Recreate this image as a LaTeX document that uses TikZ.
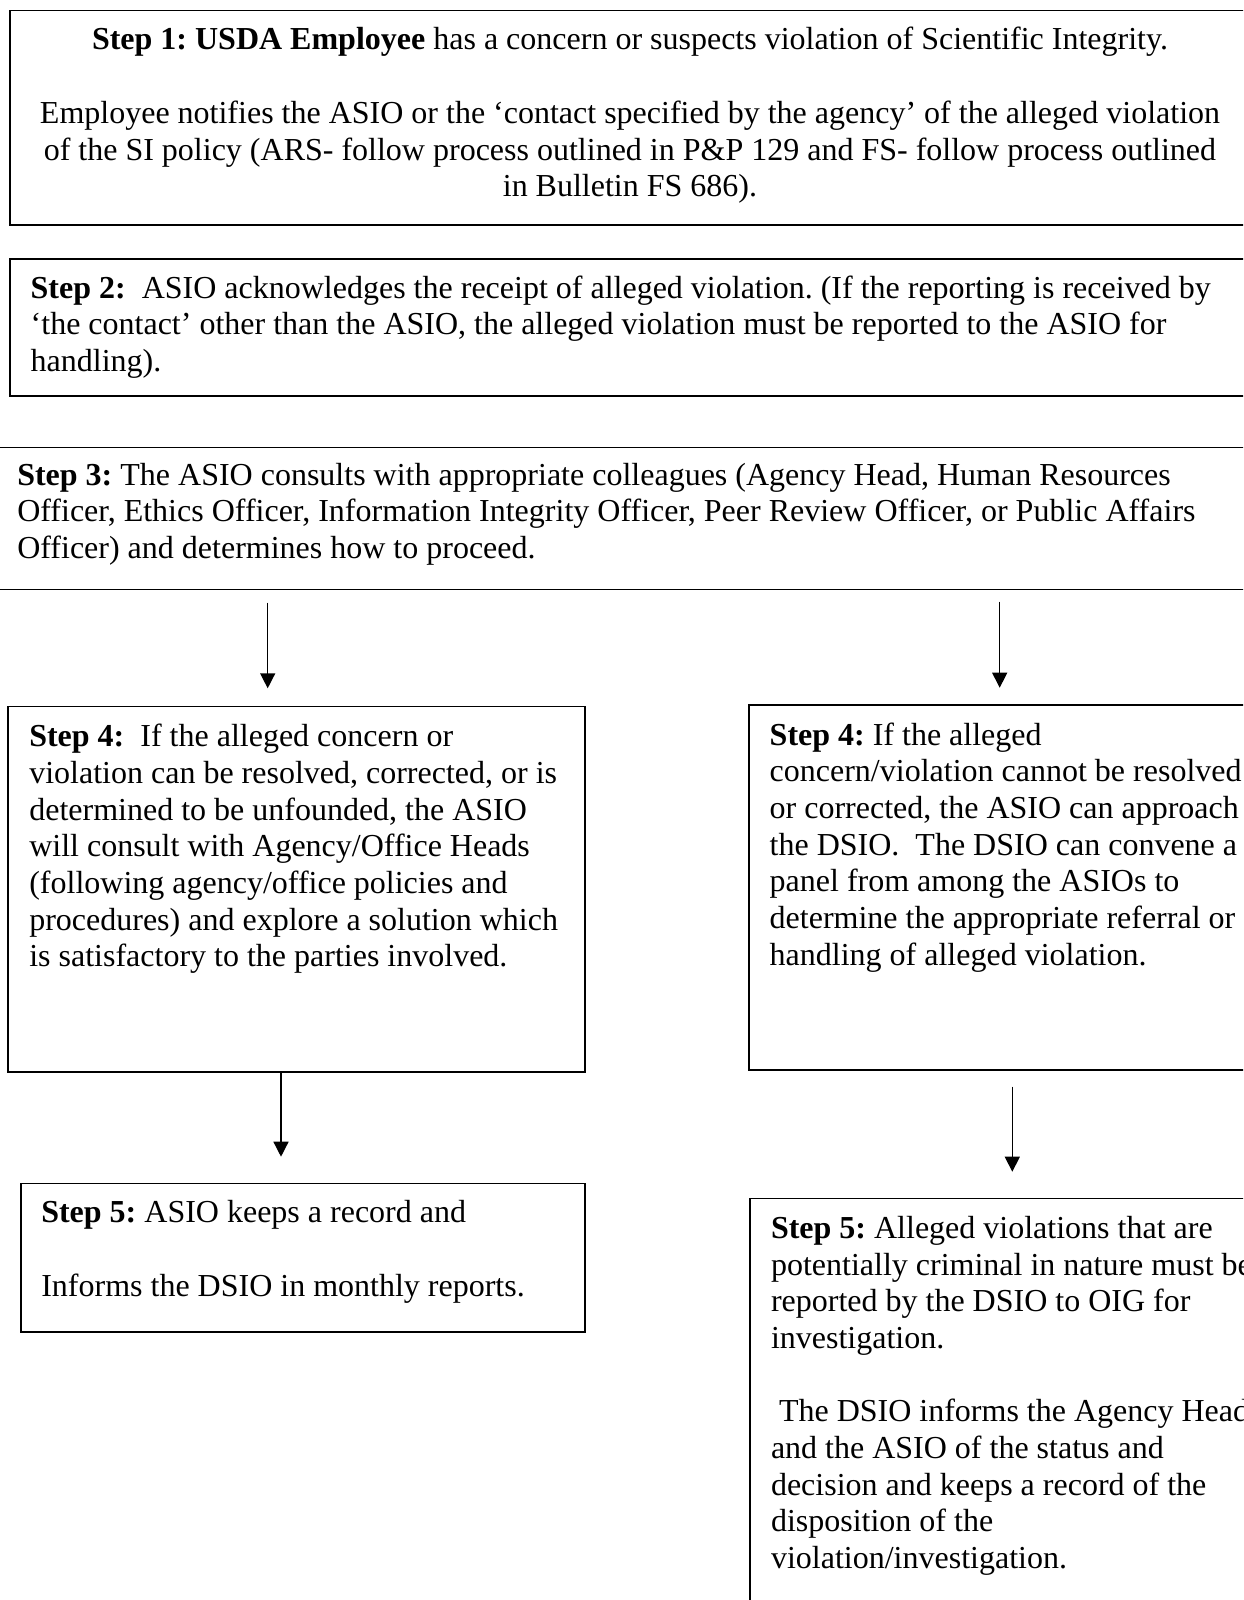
\documentclass[tikz,border=0pt]{standalone}
\usepackage{fontspec}
\setmainfont{Liberation Serif}
\usetikzlibrary{arrows.meta}
\frenchspacing
\begin{document}
\begin{tikzpicture}[x=1pt,y=-1pt,
  box/.style={draw, line width=1.6pt, inner sep=0pt, outer sep=0pt, anchor=north west, rectangle},
  txt/.style={anchor=base west, inner sep=0pt, outer sep=0pt, text width=1400pt, align=flush left,
              font=\fontsize{32}{36.7}\selectfont\frenchspacing},
  txtc/.style={anchor=base, inner sep=0pt, outer sep=0pt, text width=1240pt, align=flush center,
              font=\fontsize{32}{36.7}\selectfont\frenchspacing},
  arr/.style={line width=1.4pt, -{Triangle[length=15pt,width=15pt]}}]
\useasboundingbox (0,0) rectangle (1243,1600);
\clip (0,0) rectangle (1243,1600);
\fill[white] (0,0) rectangle (1243,1600);

% boxes
\node[box, minimum width=1260pt, minimum height=214.3pt] (b1) at (10,10.7) {};
\node[box, minimum width=1260pt, minimum height=137pt] (b2) at (9.7,259) {};
\node[box, minimum width=1280pt, minimum height=142pt] (b3) at (-10,447.5) {};
\node[box, minimum width=577.3pt, minimum height=365.2pt] (b4l) at (7.7,706.5) {};
\node[box, minimum width=600pt, minimum height=365pt] (b4r) at (748.7,705) {};
\node[box, minimum width=564.3pt, minimum height=148.4pt] (b5l) at (20.7,1183.3) {};
\node[box, minimum width=600pt, minimum height=450pt] (b5r) at (749.7,1198.3) {};

% texts
\node[txtc] (t1) at (630,50) {\textbf{Step 1: USDA Employee} has a concern or suspects violation of Scientific Integrity.\\[36.7pt]
Employee notifies the ASIO or the ‘contact specified by the agency’ of the alleged violation\\
of the SI policy (ARS- follow process outlined in P\&P 129 and FS- follow process outlined\\
in Bulletin FS 686).};

\node[txt] (t2) at (30.7,298) {\textbf{Step 2:}\ \ ASIO acknowledges the receipt of alleged violation. (If the reporting is received by\\
‘the contact’ other than the ASIO, the alleged violation must be reported to the ASIO for\\
handling).};

\node[txt] (t3) at (17.3,485) {\textbf{Step 3:} The ASIO consults with appropriate colleagues (Agency Head, Human Resources\\
Officer, Ethics Officer, Information Integrity Officer, Peer Review Officer, or Public Affairs\\
Officer) and determines how to proceed.};

\node[txt] (t4l) at (29.3,746.7) {\textbf{Step 4:}\ \ If the alleged concern or\\
violation can be resolved, corrected, or is\\
determined to be unfounded, the ASIO\\
will consult with Agency/Office Heads\\
(following agency/office policies and\\
procedures) and explore a solution which\\
is satisfactory to the parties involved.};

\node[txt] (t4r) at (769.7,745) {\textbf{Step 4:} If the alleged\\
concern/violation cannot be resolved\\
or corrected, the ASIO can approach\\
the DSIO.\ \ The DSIO can convene a\\
panel from among the ASIOs to\\
determine the appropriate referral or\\
handling of alleged violation.};

\node[txt] (t5l) at (41.3,1222.7) {\textbf{Step 5:} ASIO keeps a record and\\[36.7pt]
Informs the DSIO in monthly reports.};

\node[txt] (t5r) at (771,1238.3) {\textbf{Step 5:} Alleged violations that are\\
potentially criminal in nature must be\\
reported by the DSIO to OIG for\\
investigation.\\[36.7pt]
\hspace*{8pt}The DSIO informs the Agency Head\\
and the ASIO of the status and\\
decision and keeps a record of the\\
disposition of the\\
violation/investigation.};

% arrow x positions
\coordinate (x1) at (267.7,0);
\coordinate (x2) at (999.7,0);
\coordinate (x3) at (281,0);
\coordinate (x4) at (1012.3,0);

\draw[arr, shorten <=13.2pt, shorten >=18.2pt] (b3.south -| x1) -- (b4l.north -| x1);
\draw[arr, shorten <=12.2pt, shorten >=17.3pt] (b3.south -| x2) -- (b4r.north -| x2);
\draw[arr, shorten >=26.6pt] (b4l.south -| x3) -- (b5l.north -| x3);
\draw[arr, shorten <=16.7pt, shorten >=26.6pt] (b4r.south -| x4) -- (b5r.north -| x4);
\end{tikzpicture}
\end{document}
